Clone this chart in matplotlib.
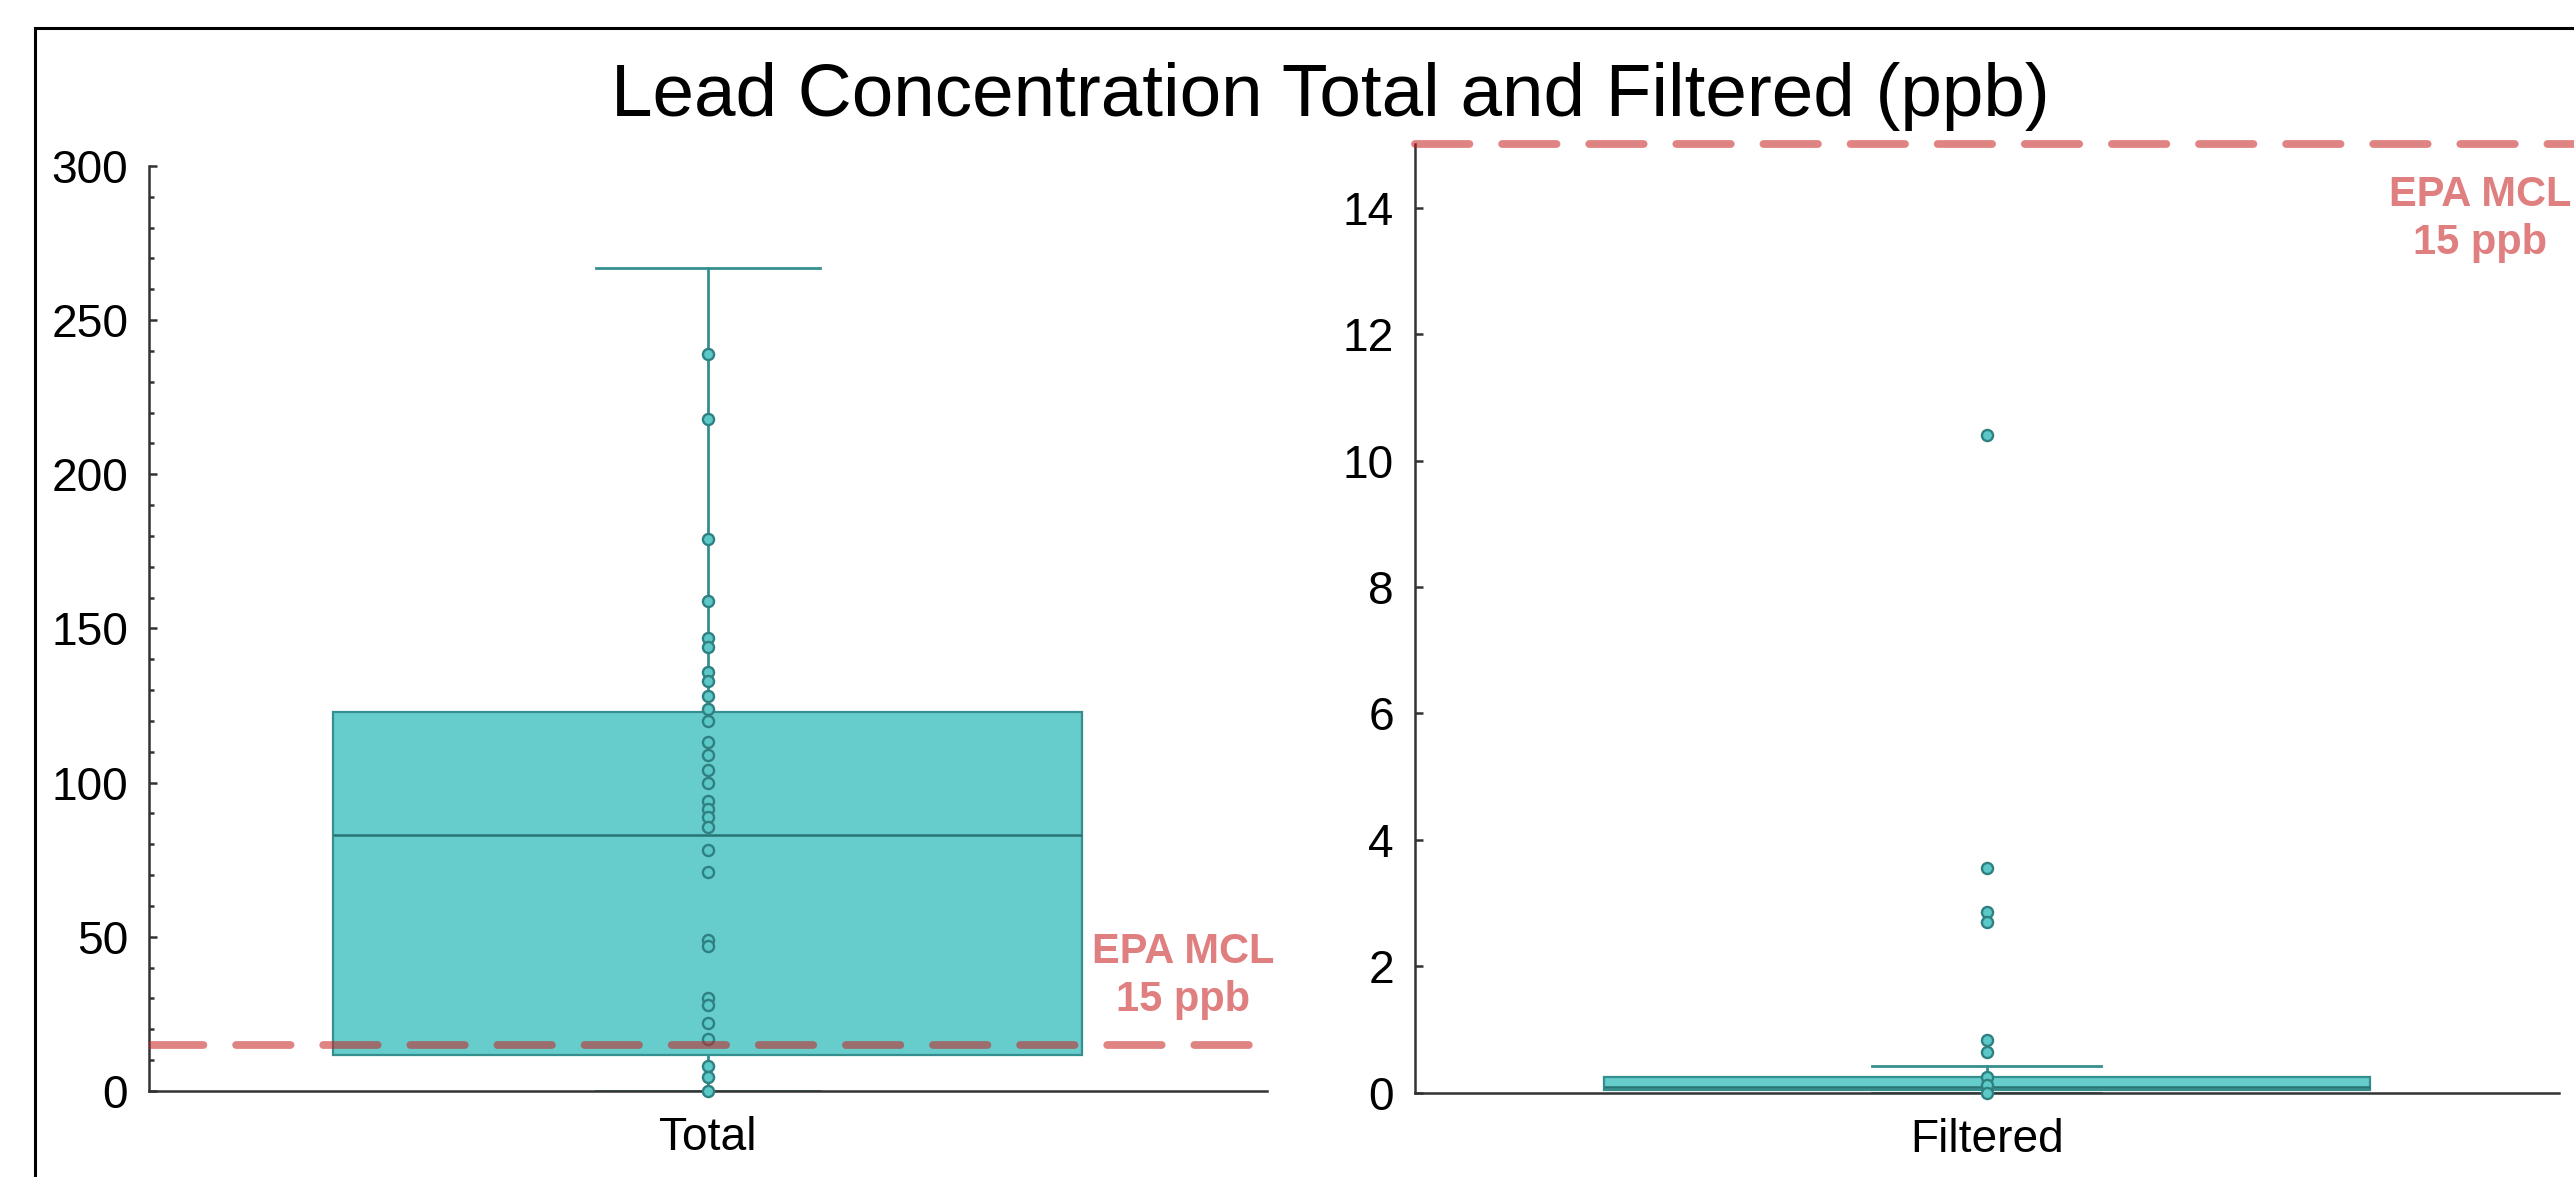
import matplotlib

matplotlib.use("Agg")
import matplotlib.pyplot as plt
from matplotlib.patches import Rectangle
from matplotlib.ticker import MultipleLocator

plt.rcParams["font.family"] = ["Liberation Sans", "DejaVu Sans"]

# values (ppb)
total_points = [239, 218, 179, 159, 147, 144, 136, 133, 128, 124, 120, 113, 109,
                104, 100, 94, 91.5, 89, 85.5, 78, 71, 49, 47, 30, 28, 22, 17, 8,
                4.6, 0]
filtered_points = [10.4, 3.55, 2.86, 2.70, 0.84, 0.64, 0.25, 0.12, 0.0]

# box summaries as drawn in the reference
total_stats = dict(label="Total", whislo=0, q1=11.5, med=83, q3=123, whishi=267)
filtered_stats = dict(label="Filtered", whislo=0, q1=0.05, med=0.095, q3=0.26, whishi=0.43)

epa_mcl = 15
title = "Lead Concentration Total and Filtered (ppb)"

BOX_FACE = "#66CDCC"
BOX_EDGE = "#358F8F"
MEDIAN = "#2A7373"
POINT_FACE = "#5CC8C7"
POINT_EDGE = "#2F8080"
MCL_LINE = "#C81E1E"
MCL_TEXT = "#E07F7F"


def draw_panel(axis, stats, points, ylim, major, minor=None):
    axis.bxp(
        [stats],
        positions=[0],
        widths=0.67,
        capwidths=0.2,
        patch_artist=True,
        showfliers=False,
        boxprops=dict(facecolor=BOX_FACE, edgecolor=BOX_EDGE, linewidth=0.8),
        whiskerprops=dict(color=BOX_EDGE, linewidth=1.0),
        capprops=dict(color=BOX_EDGE, linewidth=1.0),
        medianprops=dict(color=MEDIAN, linewidth=0.9),
        zorder=2,
    )
    axis.plot(
        [0] * len(points), points, "o",
        markersize=4.0, markerfacecolor=POINT_FACE,
        markeredgecolor=POINT_EDGE, markeredgewidth=0.85,
        zorder=3, clip_on=False,
    )
    axis.set_xlim(-0.5, 0.5)
    axis.set_ylim(*ylim)
    axis.yaxis.set_major_locator(MultipleLocator(major))
    if minor:
        axis.yaxis.set_minor_locator(MultipleLocator(minor))
    for side in ("top", "right"):
        axis.spines[side].set_visible(False)
    for side in ("left", "bottom"):
        axis.spines[side].set_color("#333333")
        axis.spines[side].set_linewidth(0.9)
    axis.tick_params(axis="y", which="major", direction="in", length=2.9,
                     width=0.9, color="#333333", pad=7.5, labelsize=16.6)
    axis.tick_params(axis="y", which="minor", direction="in", length=1.8,
                     width=0.9, color="#333333")
    axis.tick_params(axis="x", length=0, pad=9, labelsize=16.6)


figure = plt.figure(figsize=(12.87, 5.885), dpi=200)
left = figure.add_axes([0.0579, 0.0731, 0.4343, 0.786])
right = figure.add_axes([0.5497, 0.0714, 0.4444, 0.806])

draw_panel(left, total_stats, total_points, (0, 300), 50, 10)
draw_panel(right, filtered_stats, filtered_points, (0, 15), 2)

line_style = dict(color=MCL_LINE, alpha=0.55, linewidth=2.8, linestyle=(0, (7, 4.2)),
                  dash_capstyle="round", zorder=4)
left.axhline(epa_mcl, xmin=0, xmax=1, **line_style)
right.axhline(epa_mcl, xmin=0, xmax=1.02, clip_on=False, **line_style)

text_style = dict(color=MCL_TEXT, fontsize=15, fontweight="bold", ha="center",
                  va="center", linespacing=1.25)
left.text(0.925, 0.124, "EPA MCL\n15 ppb", transform=left.transAxes, **text_style)
right.text(0.931, 0.921, "EPA MCL\n15 ppb", transform=right.transAxes, **text_style)

figure.text(0.5167, 0.9014, title, ha="center", va="baseline", fontsize=26.9)

figure.patches.append(
    Rectangle((35 / 2574, -0.1), 1.2, 1.1 - 28 / 1177, transform=figure.transFigure,
              fill=False, edgecolor="black", linewidth=1.1, clip_on=False)
)

figure.savefig("out.png", dpi=200)
plt.close(figure)
